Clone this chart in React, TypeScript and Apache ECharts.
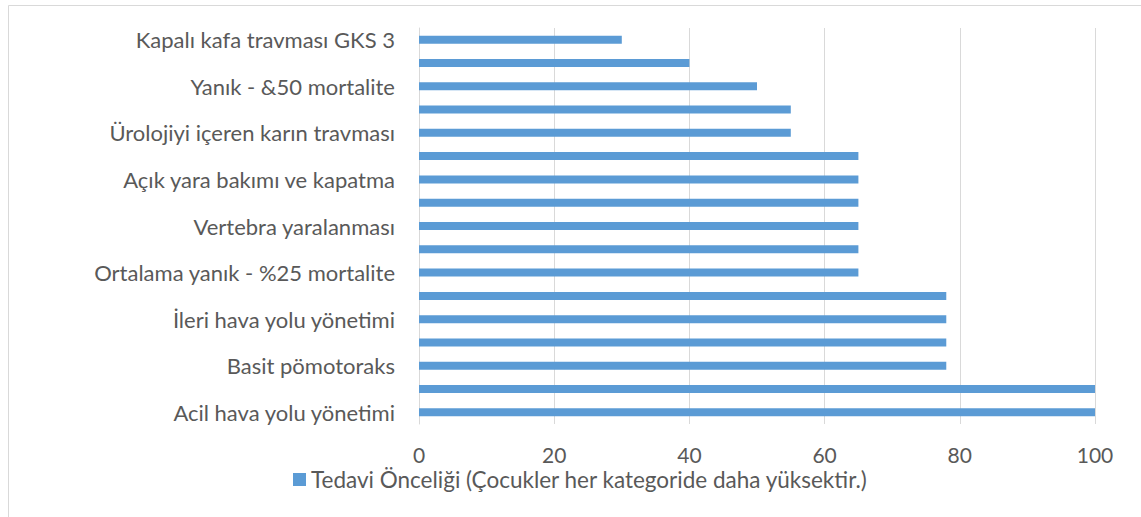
import React, { useEffect, useRef } from "react";
import * as echarts from "echarts";

const categories = [
  "Acil hava yolu yönetimi",
  "Tansiyon pnömotoraks",
  "Basit pömotoraks",
  "Hemorajik şok",
  "İleri hava yolu yönetimi",
  "Göğüs travması",
  "Ortalama yanık - %25 mortalite",
  "Kırık tespiti",
  "Vertebra yaralanması",
  "Uzun kemik kırığı",
  "Açık yara bakımı ve kapatma",
  "Yüz travması",
  "Ürolojiyi içeren karın travması",
  "Batın travması",
  "Yanık - &50 mortalite",
  "Pelvis kırığı",
  "Kapalı kafa travması GKS 3",
];
const values = [100, 100, 78, 78, 78, 78, 65, 65, 65, 65, 65, 65, 55, 55, 50, 40, 30];
const seriesName = "Tedavi Önceliği (Çocukler her kategoride daha yüksektir.)";
const xMin = 0;
const xMax = 100;
const xInterval = 20;

const FONT = "Lato";
const TEXT = "#595959";
const GRID = "#d9d9d9";
const BAR = "#5b9bd5";

export default function App() {
  const ref = useRef<HTMLDivElement>(null);
  useEffect(() => {
    if (!ref.current) return;
    const chart = echarts.init(ref.current, null, { renderer: "svg" });
    chart.setOption({
      animation: false,
      backgroundColor: "#ffffff",
      textStyle: { fontFamily: FONT, color: TEXT },
      graphic: [
        {
          type: "rect",
          shape: { x: 8.5, y: 5.5, width: 1140, height: 520 },
          style: { fill: "none", stroke: "#d9d9d9", lineWidth: 1 },
          silent: true,
        },
      ],
      grid: { left: 419, right: 46, top: 28, bottom: 93, containLabel: false },
      legend: {
        bottom: 21,
        left: 288,
        itemWidth: 13,
        itemHeight: 13,
        icon: "rect",
        itemGap: 7,
        textStyle: { fontFamily: FONT, fontSize: 22.5, color: TEXT },
        data: [seriesName],
      },
      xAxis: {
        type: "value",
        min: xMin,
        max: xMax,
        interval: xInterval,
        axisLine: { show: false },
        axisTick: { show: false },
        splitLine: { lineStyle: { color: GRID, width: 1 } },
        axisLabel: { fontFamily: FONT, fontSize: 21, color: TEXT, margin: 20 },
      },
      yAxis: {
        type: "category",
        data: categories,
        axisLine: { show: true, lineStyle: { color: GRID, width: 1 } },
        axisTick: { show: false },
        axisLabel: { interval: 1, fontFamily: FONT, fontSize: 22, color: TEXT, margin: 24 },
      },
      series: [
        {
          name: seriesName,
          type: "bar",
          data: values,
          barWidth: 8,
          itemStyle: { color: BAR },
        },
      ],
    });
    return () => chart.dispose();
  }, []);
  return (
    <div
      ref={ref}
      style={{ position: "absolute", left: 0, top: 0, width: 1141, height: 517 }}
    />
  );
}
